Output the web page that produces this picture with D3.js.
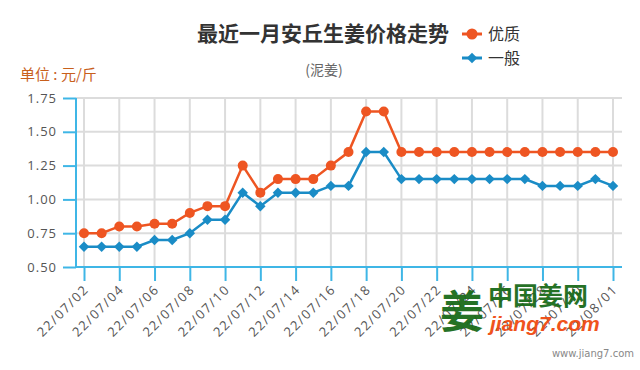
<!DOCTYPE html>
<html>
<head>
<meta charset="utf-8">
<script src="https://cdn.jsdelivr.net/npm/d3@7"></script>
<style>
body { margin: 0; background: #fff; }
text { font-family: "Open Sans", "Noto Sans CJK SC", sans-serif; }
</style>
</head>
<body>
<script>
// data
var dates = ["22/07/02","22/07/03","22/07/04","22/07/05","22/07/06","22/07/07","22/07/08","22/07/09",
  "22/07/10","22/07/11","22/07/12","22/07/13","22/07/14","22/07/15","22/07/16","22/07/17","22/07/18",
  "22/07/19","22/07/20","22/07/21","22/07/22","22/07/23","22/07/24","22/07/25","22/07/26","22/07/27",
  "22/07/28","22/07/29","22/07/30","22/07/31","22/08/01"];
var youzhi = [0.75,0.75,0.80,0.80,0.82,0.82,0.90,0.95,0.95,1.25,1.05,1.15,1.15,1.15,1.25,1.35,1.65,
  1.65,1.35,1.35,1.35,1.35,1.35,1.35,1.35,1.35,1.35,1.35,1.35,1.35,1.35];
var yiban = [0.65,0.65,0.65,0.65,0.70,0.70,0.75,0.85,0.85,1.05,0.95,1.05,1.05,1.05,1.10,1.10,1.35,
  1.35,1.15,1.15,1.15,1.15,1.15,1.15,1.15,1.15,1.10,1.10,1.10,1.15,1.10];
var yTicks = [0.50,0.75,1.00,1.25,1.50,1.75];
var seriesNames = ["优质","一般"];

var width = 640, height = 370;
var plot = {left: 76, right: 622, top: 98, bottom: 267};
var orange = "#ee5522", blue = "#1a8cc6", axisBlue = "#3fb6e6";

var svg = d3.select("body").append("svg")
  .attr("width", width)
  .attr("height", height);

var xScale = d3.scaleLinear()
  .domain([0, dates.length - 1])
  .range([84, 613]);

var yScale = d3.scaleLinear()
  .domain([0.5, 1.75])
  .range([plot.bottom, plot.top]);

var tickIdx = d3.range(0, dates.length, 2);

// grid
svg.append("g").selectAll("line.h")
  .data(yTicks.slice(1))
  .enter().append("line")
  .attr("x1", plot.left).attr("x2", plot.right)
  .attr("y1", function(d){ return yScale(d); })
  .attr("y2", function(d){ return yScale(d); })
  .attr("stroke", "#dcdcdc").attr("stroke-width", 2);

svg.append("g").selectAll("line.v")
  .data(tickIdx)
  .enter().append("line")
  .attr("x1", function(d){ return xScale(d); })
  .attr("x2", function(d){ return xScale(d); })
  .attr("y1", plot.top).attr("y2", plot.bottom)
  .attr("stroke", "#dcdcdc").attr("stroke-width", 2);

// y axis
var yAxis = d3.axisLeft(yScale)
  .tickValues(yTicks)
  .tickFormat(d3.format(".2f"))
  .tickSize(13)
  .tickPadding(6);
var yg = svg.append("g")
  .attr("transform", "translate(" + plot.left + ",0)")
  .call(yAxis);
yg.select(".domain").remove();
yg.append("line").attr("x1", 0).attr("x2", 0)
  .attr("y1", plot.top).attr("y2", plot.bottom + 1);
yg.selectAll("line").attr("stroke", axisBlue).attr("stroke-width", 2);
yg.selectAll("text").attr("fill", "#555").style("font-size", "13px")
  .style("letter-spacing", "1px");

// x axis
var xAxis = d3.axisBottom(xScale)
  .tickValues(tickIdx)
  .tickFormat(function(i){ return dates[i]; })
  .tickSize(14);
var xg = svg.append("g")
  .attr("transform", "translate(0," + plot.bottom + ")")
  .call(xAxis);
xg.select(".domain").remove();
xg.append("line").attr("x1", plot.left).attr("x2", plot.right)
  .attr("y1", 0).attr("y2", 0);
xg.selectAll("line").attr("stroke", axisBlue).attr("stroke-width", 2);
xg.selectAll("text")
  .attr("fill", "#555")
  .style("font-size", "13px")
  .style("letter-spacing", "1.6px")
  .attr("text-anchor", "end")
  .attr("x", 0).attr("y", 0).attr("dy", "0.35em")
  .attr("transform", "translate(2,20) rotate(-45)");

// lines
var line = function(values) {
  return d3.line()
    .x(function(d, i){ return xScale(i); })
    .y(function(d){ return yScale(d); })(values);
};

svg.append("path").attr("d", line(yiban))
  .attr("fill", "none").attr("stroke", blue).attr("stroke-width", 2.5);
svg.append("path").attr("d", line(youzhi))
  .attr("fill", "none").attr("stroke", orange).attr("stroke-width", 2.5);

var diamond = d3.symbol().type(d3.symbolDiamond2).size(70);

svg.append("g").selectAll("path")
  .data(yiban)
  .enter().append("path")
  .attr("d", diamond)
  .attr("transform", function(d, i){ return "translate(" + xScale(i) + "," + yScale(d) + ")"; })
  .attr("fill", blue);

svg.append("g").selectAll("circle")
  .data(youzhi)
  .enter().append("circle")
  .attr("cx", function(d, i){ return xScale(i); })
  .attr("cy", function(d){ return yScale(d); })
  .attr("r", 5)
  .attr("fill", orange);

// titles
svg.append("text")
  .attr("x", 323).attr("y", 41)
  .attr("text-anchor", "middle")
  .style("font-family", "'Noto Sans CJK SC'")
  .style("font-weight", "bold")
  .style("font-size", "21px")
  .attr("fill", "#333")
  .text("最近一月安丘生姜价格走势");

svg.append("text")
  .attr("x", 324).attr("y", 75)
  .attr("text-anchor", "middle")
  .style("font-family", "'Noto Sans CJK SC'")
  .style("font-size", "14px")
  .attr("fill", "#666")
  .text("(泥姜)");

svg.append("text")
  .attr("x", 20).attr("y", 80)
  .style("font-family", "'Noto Sans CJK SC'")
  .style("font-size", "15px")
  .attr("fill", "#c8601c")
  .text("单位 : 元/斤");

// legend
var legend = svg.append("g").attr("transform", "translate(462,34)");
var leg = [{name: seriesNames[0], color: orange}, {name: seriesNames[1], color: blue}];
leg.forEach(function(d, i) {
  var g = legend.append("g").attr("transform", "translate(0," + (i * 24) + ")");
  g.append("line").attr("x1", 0).attr("x2", 20).attr("stroke", d.color).attr("stroke-width", 3);
  if (i == 0) {
    g.append("circle").attr("cx", 10).attr("r", 5.5).attr("fill", d.color);
  } else {
    g.append("path").attr("d", diamond).attr("transform", "translate(10,0)").attr("fill", d.color);
  }
  g.append("text").attr("x", 26).attr("dy", "0.35em")
    .style("font-family", "'Noto Sans CJK SC'")
    .style("font-size", "16px")
    .attr("fill", "#333")
    .text(d.name);
});

// watermark
var wm = svg.append("g").attr("opacity", 0.95);
wm.append("text").attr("x", 440).attr("y", 328)
  .style("font-family", "'Noto Sans CJK SC'").style("font-weight", "bold")
  .style("font-size", "44px").attr("fill", "#1a6b1a").text("姜");
wm.append("text").attr("x", 488).attr("y", 305)
  .style("font-family", "'Noto Sans CJK SC'").style("font-weight", "bold")
  .style("font-size", "25px").attr("fill", "#1a6b1a").text("中国姜网");
wm.append("text").attr("x", 490).attr("y", 331)
  .style("font-family", "'Liberation Sans'").style("font-weight", "bold").style("font-style", "italic")
  .style("font-size", "21px").attr("fill", "#f04a10").text("jiang7.com");
svg.append("text").attr("x", 634).attr("y", 357)
  .attr("text-anchor", "end")
  .style("font-family", "'DejaVu Sans'")
  .style("font-size", "10px").attr("fill", "#888").text("www.jiang7.com");
</script>
</body>
</html>
